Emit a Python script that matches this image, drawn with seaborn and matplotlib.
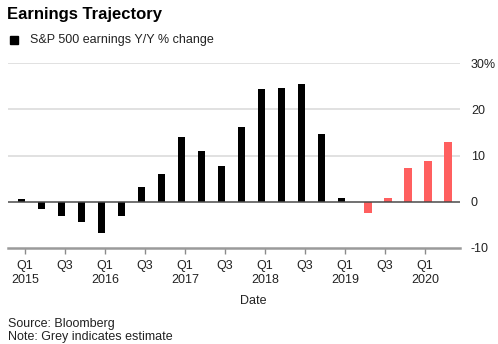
import numpy as np
import pandas as pd
import matplotlib
matplotlib.use("Agg")
import matplotlib.pyplot as plt
import seaborn as sns
from matplotlib.patches import Rectangle

# Quarterly S&P 500 earnings growth, Y/Y % change
quarters = ["Q1 2015", "Q2 2015", "Q3 2015", "Q4 2015",
            "Q1 2016", "Q2 2016", "Q3 2016", "Q4 2016",
            "Q1 2017", "Q2 2017", "Q3 2017", "Q4 2017",
            "Q1 2018", "Q2 2018", "Q3 2018", "Q4 2018",
            "Q1 2019", "Q2 2019", "Q3 2019", "Q4 2019",
            "Q1 2020", "Q2 2020"]
actual = [0.7, -1.6, -3.1, -4.4, -6.8, -3.1, 3.1, 5.9, 14.0, 11.0, 7.8,
          16.2, 24.3, 24.5, 25.4, 14.7, 0.75]
estimate = [-2.4, 0.75, 7.2, 8.9, 12.9]
x_tick_labels = ["Q1\n2015", "Q3", "Q1\n2016", "Q3", "Q1\n2017", "Q3",
                 "Q1\n2018", "Q3", "Q1\n2019", "Q3", "Q1\n2020"]
y_ticks = [-10, 0, 10, 20, 30]
y_tick_labels = ["-10", "0", "10", "20", "30%"]

sns.set_theme(style="white")
plt.rcParams["font.family"] = ["Liberation Sans", "DejaVu Sans"]
plt.rcParams["axes.unicode_minus"] = False

W, H = 498, 344
fig = plt.figure(figsize=(W / 100, H / 100), dpi=100)
ax = fig.add_axes([8 / W, 1 - 248 / H, 452 / W, 185 / H])

kind = ["actual"] * len(actual) + ["estimate"] * len(estimate)
idx = np.arange(len(quarters))
shift = np.where(np.array(kind) == "actual", -0.175, 0.15)
df = pd.DataFrame({"pos": idx + shift, "change": actual + estimate, "kind": kind})

sns.barplot(data=df, x="pos", y="change", hue="kind",
            palette={"actual": "#000000", "estimate": "#ff5f5f"},
            native_scale=True, width=0.35, dodge=False, errorbar=None,
            saturation=1, linewidth=0, legend=False, ax=ax, zorder=3)

ax.set_xlim(-0.85, 21.75)
ax.set_ylim(-10, 30)

# horizontal reference lines
for v in [10, 20, 30]:
    ax.axhline(v, color="#dedede", lw=1.3, zorder=0)
ax.axhline(0, color="#4a4a4a", lw=1.1, zorder=4)

for s in ["top", "left", "right"]:
    ax.spines[s].set_visible(False)
ax.spines["bottom"].set_color("#9a9a9a")
ax.spines["bottom"].set_linewidth(1.8)

ax.set_xticks(idx[::2])
ax.set_xticklabels(x_tick_labels, fontsize=9, linespacing=1.2)
ax.tick_params(axis="x", direction="out", length=4, width=1,
               color="#8a8a8a", pad=4.5, labelcolor="#222222", bottom=True)

ax.yaxis.tick_right()
ax.set_yticks(y_ticks)
ax.set_yticklabels(y_tick_labels, fontsize=9)
ax.tick_params(axis="y", length=0, pad=7.8, labelcolor="#222222")
for lbl in ax.get_yticklabels():
    lbl.set_horizontalalignment("left")

ax.set_xlabel("")
ax.set_ylabel("")
ax.grid(False)

# header
fig.text(7 / W, 1 - 18.5 / H, "Earnings Trajectory", fontsize=12,
         fontweight="bold", va="baseline", ha="left", color="#000000")
fig.patches.append(Rectangle((10 / W, 1 - 44 / H), 8 / W, 8 / H,
                             transform=fig.transFigure, color="#000000"))
fig.text(30 / W, 1 - 43.5 / H, "S&P 500 earnings Y/Y % change", fontsize=9,
         va="baseline", ha="left", color="#222222")

# footer
fig.text(253 / W, 1 - 300.5 / H, "Date", fontsize=9, ha="center",
         va="center", color="#222222")
fig.text(8 / W, 1 - 326.5 / H, "Source: Bloomberg", fontsize=9,
         va="baseline", ha="left", color="#222222")
fig.text(8 / W, 1 - 340 / H, "Note: Grey indicates estimate", fontsize=9,
         va="baseline", ha="left", color="#222222")

fig.savefig("out.png", dpi=100)
